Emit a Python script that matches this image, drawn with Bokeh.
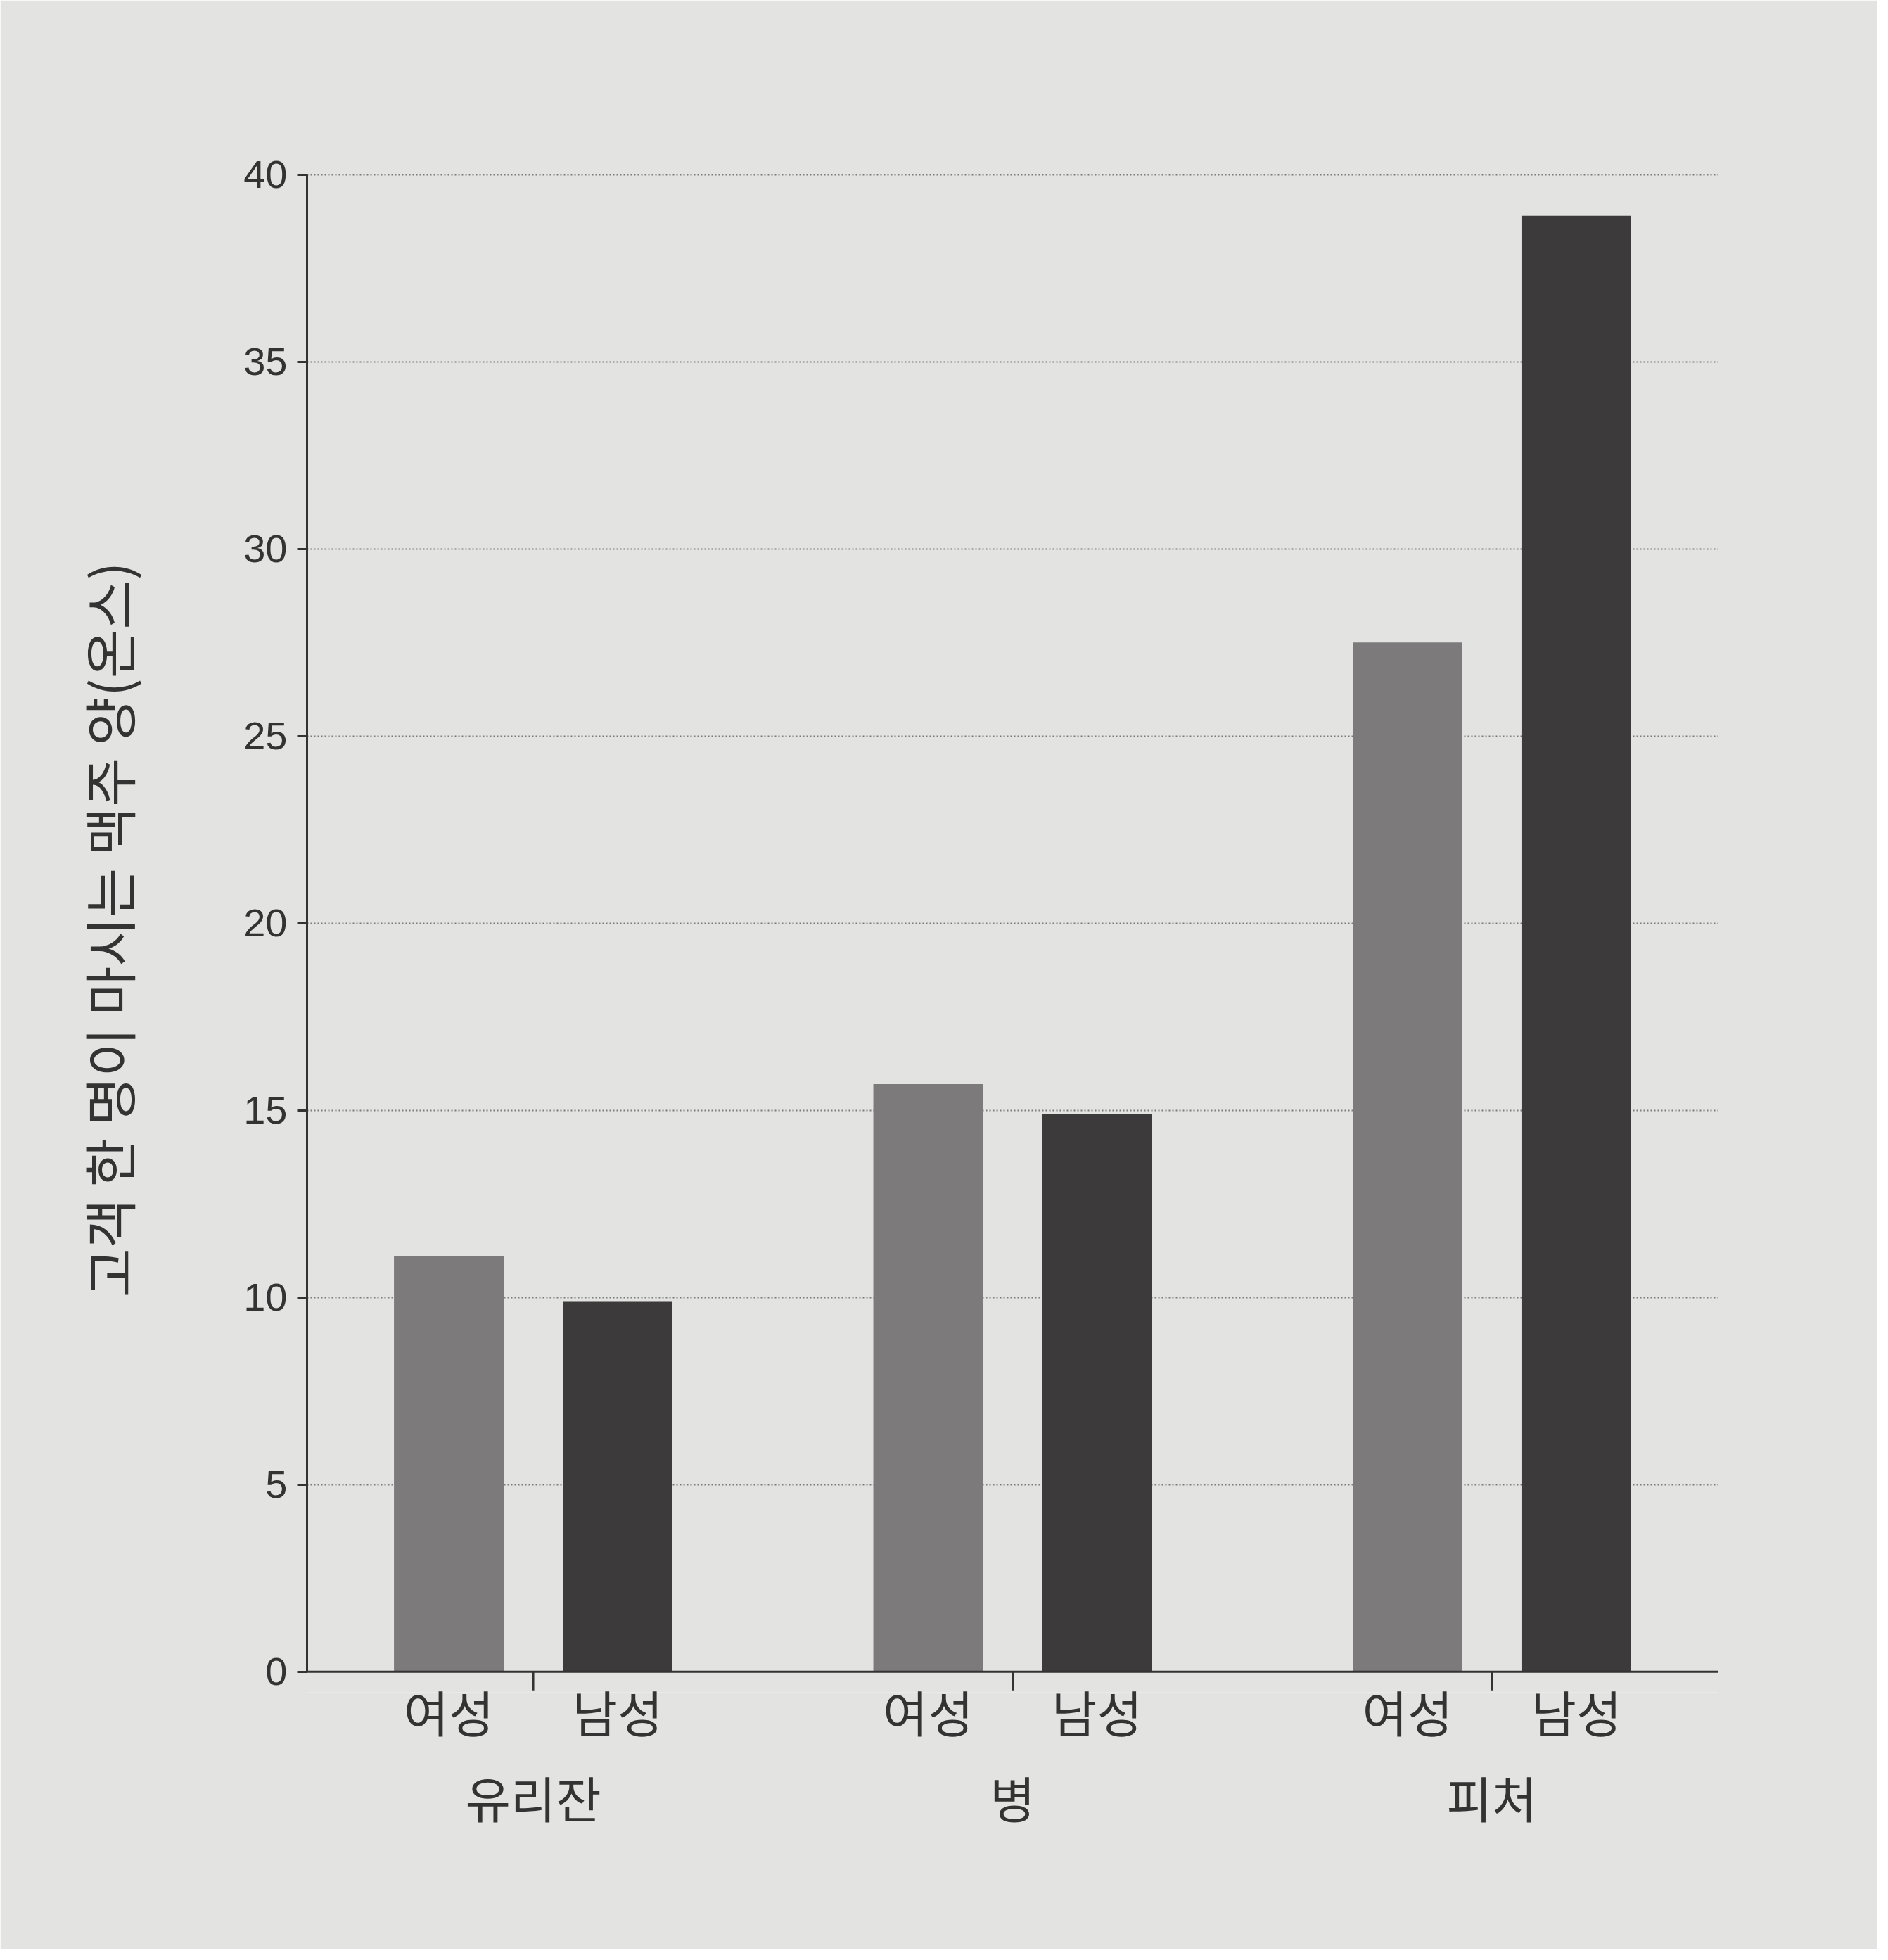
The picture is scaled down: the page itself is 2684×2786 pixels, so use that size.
from bokeh.plotting import figure
from bokeh.models import (FactorRange, Range1d, Span, ColumnDataSource, FixedTicker,
                          CategoricalAxis)
from bokeh.transform import dodge
from bokeh.embed import file_html
from bokeh.resources import INLINE

# ---- data ----
containers = ["유리잔", "병", "피처"]
genders = ["여성", "남성"]
female_oz = [11.1, 15.7, 27.5]
male_oz = [9.9, 14.9, 38.9]
y_ticks = [0, 5, 10, 15, 20, 25, 30, 35, 40]
y_label = "고객 한 명이 마시는 맥주 양(온스)"
gender_colors = {"여성": "#7c7a7a", "남성": "#3d3a3b"}

factors = [(c, g) for c in containers for g in genders]
values = []
for f, m in zip(female_oz, male_oz):
    values += [f, m]
colors = [gender_colors[g] for _, g in factors]

src = ColumnDataSource(dict(x=factors, top=values, color=colors))
sep_src = ColumnDataSource(dict(x=[(c, genders[0]) for c in containers],
                                y0=[0] * len(containers), y1=[-0.5] * len(containers)))

BG = "#e3e3e2"
INK = "#333333"

GROUP_PAD = 0.84
RANGE_PAD = 0.34
# flat range of the groups, aligned with the centres of the nested groups
n_sub = len(genders)
FLAT_PAD = 1.0
k = (1 + FLAT_PAD) / (n_sub + GROUP_PAD)
flat_range_pad = (RANGE_PAD + n_sub / 2) * k - 0.5

p = figure(
    x_range=FactorRange(*factors, factor_padding=0.0, group_padding=GROUP_PAD,
                        range_padding=RANGE_PAD, range_padding_units="absolute"),
    y_range=Range1d(-0.55, 40.2),
    width=2668, height=2770,
    output_backend="svg", toolbar_location=None,
    min_border_left=436, min_border_top=237, min_border_right=226, min_border_bottom=365,
)
p.extra_x_ranges = {"groups": FactorRange(*containers, factor_padding=FLAT_PAD,
                                          range_padding=flat_range_pad,
                                          range_padding_units="absolute")}
p.background_fill_color = BG
p.border_fill_color = BG
p.outline_line_color = None

p.vbar(x="x", top="top", bottom=0, width=0.65, source=src,
       fill_color="color", line_color=None)

# zero baseline and separator ticks
p.add_layout(Span(location=0, dimension="width", line_color=INK, line_width=3))
p.segment(x0=dodge("x", 0.5, range=p.x_range), x1=dodge("x", 0.5, range=p.x_range),
          y0="y0", y1="y1", source=sep_src, line_color=INK, line_width=3)

# grid
p.xgrid.grid_line_color = None
p.ygrid.ticker = FixedTicker(ticks=y_ticks[1:])
p.ygrid.grid_line_color = "#7a7a7a"
p.ygrid.grid_line_width = 2
p.ygrid.grid_line_dash = "2 3"

# y axis
ya = p.yaxis[0]
ya.ticker = FixedTicker(ticks=y_ticks)
ya.bounds = (0, 40)
ya.axis_line_color = INK
ya.axis_line_width = 3
ya.major_tick_line_color = INK
ya.major_tick_line_width = 3
ya.major_tick_out = 14
ya.major_tick_in = 0
ya.minor_tick_line_color = None
ya.major_label_standoff = 14
ya.major_label_text_font = "Liberation Sans"
ya.major_label_text_font_size = "56px"
ya.major_label_text_color = INK
ya.axis_label = y_label
ya.axis_label_text_font = "Noto Sans CJK KR"
ya.axis_label_text_font_size = "76px"
ya.axis_label_text_font_style = "normal"
ya.axis_label_text_color = INK
ya.axis_label_standoff = 135

# x axis (gender labels)
xa = p.xaxis[0]
xa.axis_line_color = None
xa.major_tick_line_color = None
xa.minor_tick_line_color = None
xa.separator_line_color = None
xa.major_label_standoff = -30
xa.major_label_text_font = "Noto Sans CJK KR"
xa.major_label_text_font_size = "70px"
xa.major_label_text_color = INK
xa.group_text_font_size = "1px"
xa.group_text_color = None

# second axis (container labels)
ga = CategoricalAxis(x_range_name="groups")
ga.axis_line_color = None
ga.major_tick_line_color = None
ga.minor_tick_line_color = None
ga.major_label_standoff = 12
ga.major_label_text_font = "Noto Sans CJK KR"
ga.major_label_text_font_size = "70px"
ga.major_label_text_color = INK
p.add_layout(ga, "below")

open("out.html", "w").write(file_html(p, INLINE))
